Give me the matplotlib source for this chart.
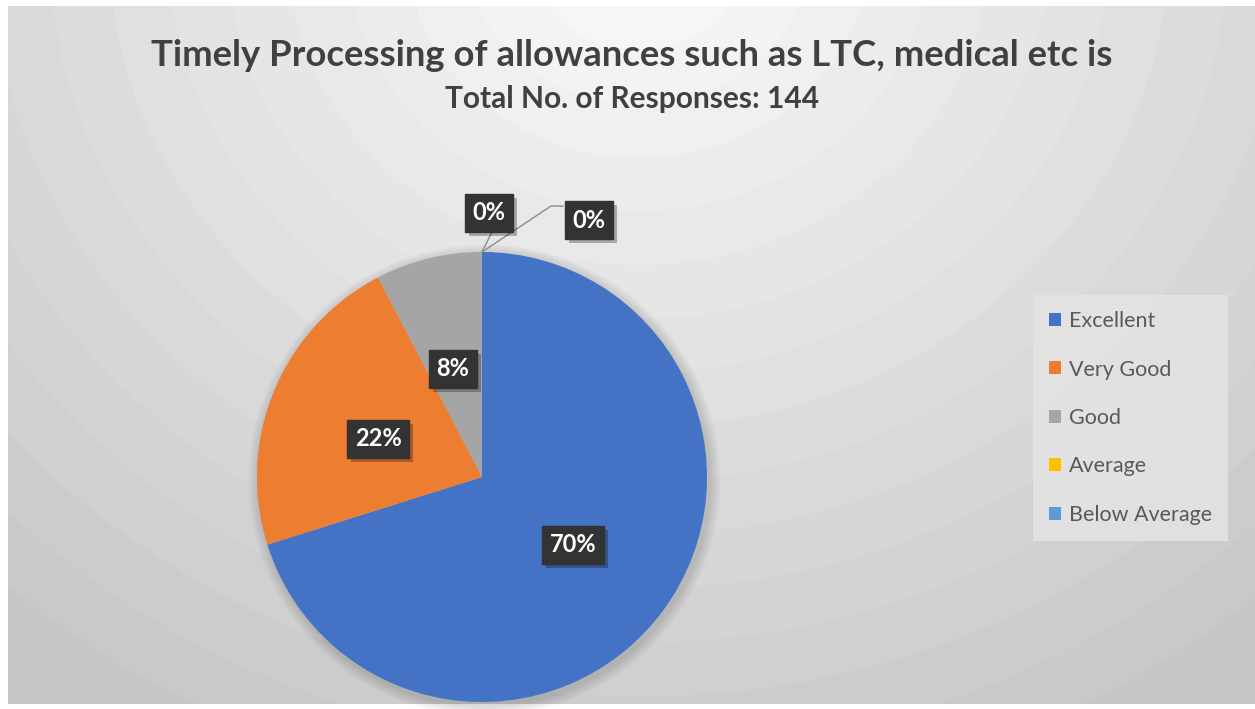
import matplotlib.pyplot as plt
import matplotlib.patheffects as pe
import numpy as np

plt.rcParams['font.family'] = ['Lato', 'DejaVu Sans']

# data
categories = ['Excellent', 'Very Good', 'Good', 'Average', 'Below Average']
responses = [101, 32, 11, 0, 0]
colors = ['#4472c4', '#ed7d31', '#a5a5a5', '#ffc000', '#5b9bd5']
title = 'Timely Processing of allowances such as LTC, medical etc is'
subtitle = 'Total No. of Responses: 144'

W, H = 1255, 709
fig = plt.figure(figsize=(W / 100, H / 100), dpi=100)
fig.patch.set_facecolor('white')

# banded radial background
bg = fig.add_axes([8 / W, 5 / H, (W - 8) / W, (H - 11) / H])
bg.set_axis_off()
yy, xx = np.mgrid[0:700, 0:1247]
r = np.hypot(xx - 630, (yy + 60) * 1.1)
shade = 0.98 - 0.21 * np.clip(r / 1000, 0, 1)
shade = np.round(shade * 80) / 80
bg.imshow(shade, cmap='gray', vmin=0, vmax=1, aspect='auto', interpolation='nearest')

# pie axes (center ~ (482, 477), radius ~ 225 px)
cx, cy, rad = 482, 477, 225
ax = fig.add_axes([(cx - rad) / W, (H - cy - rad) / H, 2 * rad / W, 2 * rad / H])
wedges, _ = ax.pie(responses, colors=colors, startangle=90, counterclock=False,
                   radius=1, wedgeprops=dict(linewidth=0))
ax.set_xlim(-1, 1)
ax.set_ylim(-1, 1)
ax.set_axis_off()

# soft shadow under the pie
for k in range(6):
    ax.add_patch(plt.Circle((0.01, -0.015), 1 + 0.008 * (k + 1), color='black',
                            alpha=0.025, zorder=0, lw=0, clip_on=False))


def px(x, y):
    return (x - cx) / rad, (cy - y) / rad


total = sum(responses)
pct = [f'{round(v / total * 100)}%' for v in responses]
label_pos = [(573, 545), (378, 439), (453, 369), (489, 213), (589, 220)]
box = dict(boxstyle='square,pad=0.33', fc='#333333', ec='#333333')
shadow = [pe.withSimplePatchShadow(offset=(3, -3), alpha=0.3)]

# leader lines for the zero slices
top = px(482, 252)
ax.plot([top[0], px(492, 232)[0]], [top[1], px(492, 232)[1]], color='#8c8c8c', lw=1, clip_on=False)
ax.plot([top[0], px(551, 206)[0], px(563, 206)[0]],
        [top[1], px(551, 206)[1], px(563, 206)[1]], color='#8c8c8c', lw=1, clip_on=False)

for p, (lx, ly) in zip(pct, label_pos):
    t = ax.text(*px(lx, ly), p, ha='center', va='center', color='white',
                fontsize=17, fontweight='bold', bbox=box, clip_on=False, zorder=5)
    t.get_bbox_patch().set_path_effects(shadow)

fig.text(632 / W, 1 - 56 / H, title, ha='center', va='center', fontsize=26.3,
         fontweight='bold', color='#404040')
fig.text(632 / W, 1 - 99 / H, subtitle, ha='center', va='center', fontsize=21.5,
         fontweight='bold', color='#404040')

leg = fig.legend(wedges, categories, loc='center left', bbox_to_anchor=(1033 / W, 1 - 418 / H),
                 frameon=True, fontsize=15.5, handlelength=0.55, handleheight=0.55,
                 labelspacing=1.32, borderpad=0.75, borderaxespad=0, handletextpad=0.35,
                 labelcolor='#595959')
leg.get_frame().set_facecolor('#e4e4e4')
leg.get_frame().set_edgecolor('none')
leg.get_frame().set_alpha(0.85)
leg.get_frame().set_boxstyle('square', pad=0)

fig.savefig('out.png', dpi=100, facecolor=fig.get_facecolor())
